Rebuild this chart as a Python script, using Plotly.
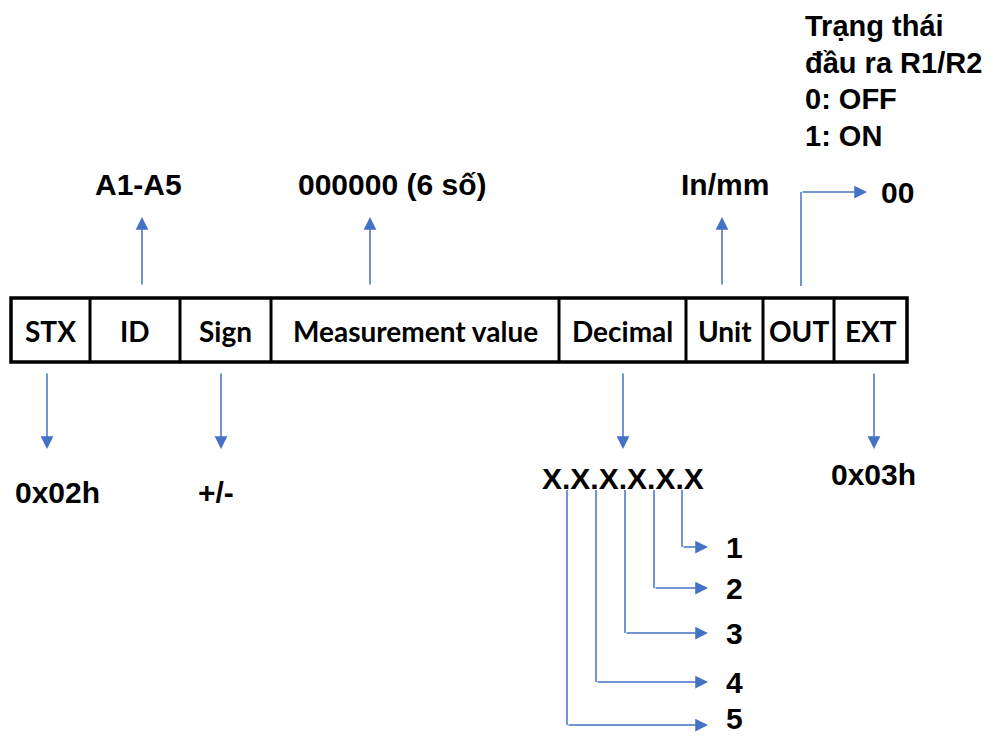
import plotly.graph_objects as go

# ---- content ----
fields = ["STX", "ID", "Sign", "Measurement value", "Decimal", "Unit", "OUT", "EXT"]
top_labels = ["A1-A5", "000000 (6 số)", "In/mm"]
bottom_labels = ["0x02h", "+/-", "X.X.X.X.X.X", "0x03h"]
out_value = "00"
out_note = ["Trạng thái", "đầu ra R1/R2", "0: OFF", "1: ON"]
decimal_digits = ["1", "2", "3", "4", "5"]

# ---- layout constants (pixels) ----
W, H = 993, 737
PAD = 8  # page body margin
cell_edges = [11, 90, 180, 271, 559, 686, 763, 834, 907]
box_top, box_bot = 298, 362
BLUE = "#4472C4"
TXT_FONT = dict(family="Liberation Sans, Arial", size=30, color="black")
NOTE_FONT = dict(family="Liberation Sans, Arial", size=29, color="black")
CELL_FONT = dict(family="Lato, Noto Sans", size=28, color="black")

fig = go.Figure()
shapes = []
ann = []

# table cells
shapes.append(dict(type="rect", x0=cell_edges[0], x1=cell_edges[-1], y0=box_top, y1=box_bot,
                   line=dict(color="black", width=3.5), xref="x", yref="y"))
for e in cell_edges[1:-1]:
    shapes.append(dict(type="line", x0=e, x1=e, y0=box_top, y1=box_bot,
                       line=dict(color="black", width=3), xref="x", yref="y"))
for i, f in enumerate(fields):
    cx = (cell_edges[i] + cell_edges[i + 1]) / 2
    ann.append(dict(x=cx, y=(box_top + box_bot) / 2 + 1, text=f"<b>{f}</b>", showarrow=False,
                    font=CELL_FONT, xanchor="center", yanchor="middle"))

def arrow(x0, y0, x1, y1):
    ann.append(dict(x=x1, y=y1, ax=x0, ay=y0, axref="x", ayref="y", xref="x", yref="y",
                    text="", showarrow=True, arrowhead=2, arrowsize=1.7, arrowwidth=1.5,
                    arrowcolor=BLUE, standoff=0, startstandoff=0))

def line(x0, y0, x1, y1):
    shapes.append(dict(type="line", x0=x0, x1=x1, y0=y0, y1=y1,
                       line=dict(color=BLUE, width=1.5), xref="x", yref="y"))

def label(x, y, t, anchor="center", yanchor="middle", font=TXT_FONT):
    ann.append(dict(x=x, y=y, text=f"<b>{t}</b>", showarrow=False, font=font,
                    xanchor=anchor, yanchor=yanchor))

# up arrows
up_x = [142, 370, 722]
up_label_x = [138, 392, 725]
for x, lx, t in zip(up_x, up_label_x, top_labels):
    arrow(x, 286, x, 217)
    label(lx, 184, t)

# OUT elbow arrow
line(801, 286, 801, 192)
arrow(801, 192, 867, 192)
label(897, 192, out_value)
for i, t in enumerate(out_note):
    label(803, 26 + i * 36.5, t, anchor="left", font=NOTE_FONT)

# down arrows
down_x = [47, 221, 623, 874]
down_label = [(57, 492), (216, 492), (623, 478), (873, 474)]
for x, (lx, ly), t in zip(down_x, down_label, bottom_labels):
    arrow(x, 372, x, 449)
    label(lx, ly, t)

# decimal digit arrows
dig_x = [682, 654, 625, 596, 567]
dig_y = [547, 588, 633, 682, 725]
for x, y, t in zip(dig_x, dig_y, decimal_digits):
    line(x, 490, x, y)
    arrow(x, y, 708, y)
    if y > 700:
        label(734, H, t, yanchor="bottom")
    else:
        label(734, y, t)

fig.update_layout(
    width=W - PAD, height=H - PAD, margin=dict(l=0, r=0, t=0, b=0),
    paper_bgcolor="white", plot_bgcolor="white",
    xaxis=dict(range=[PAD, W], visible=False, fixedrange=True),
    yaxis=dict(range=[H, PAD], visible=False, fixedrange=True),
    shapes=shapes, annotations=ann, showlegend=False,
)
fig.write_html("out.html")
